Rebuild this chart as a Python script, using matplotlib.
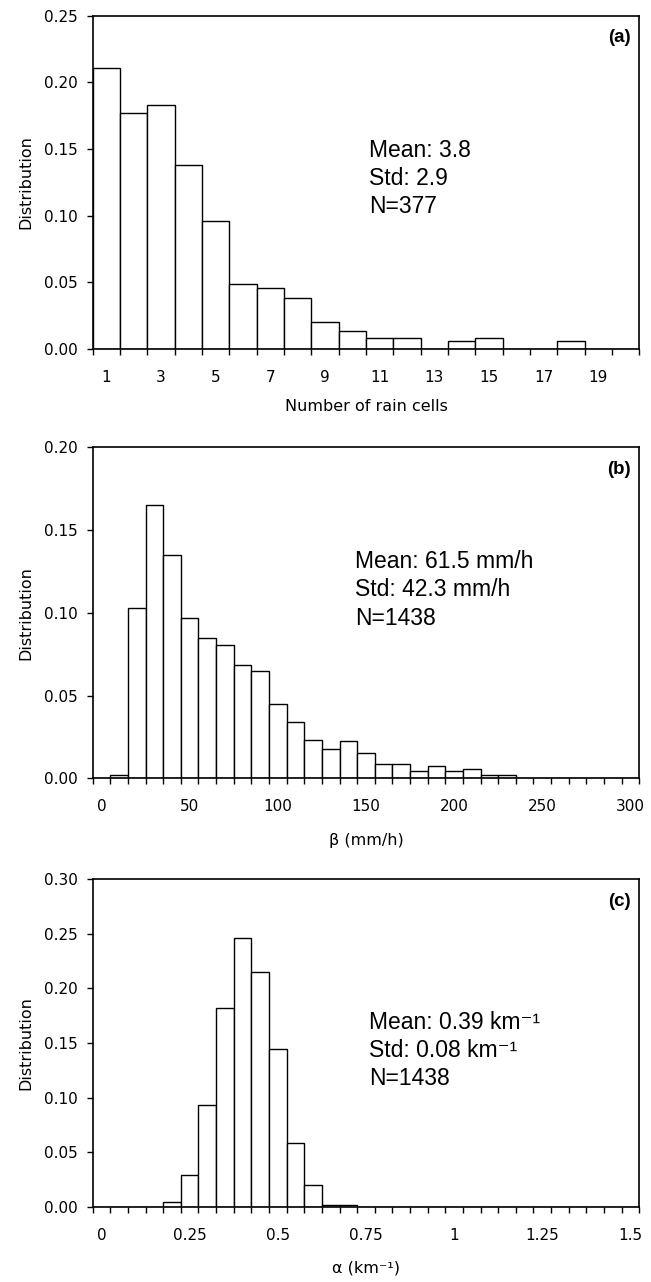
import matplotlib
matplotlib.use("Agg")
import matplotlib.pyplot as plt
import numpy as np

plt.rcParams["font.family"] = ["DejaVu Sans"]

# (a) number of rain cells
cells = [1, 2, 3, 4, 5, 6, 7, 8, 9, 10, 11, 12, 13, 14, 15, 16, 17, 18, 19, 20]
cells_freq = [0.211, 0.177, 0.183, 0.138, 0.096, 0.049, 0.046, 0.038, 0.020, 0.0135,
              0.008, 0.008, 0.0, 0.0058, 0.0083, 0.0, 0.0, 0.0058, 0.0, 0.0]
cells_labels = [1, 3, 5, 7, 9, 11, 13, 15, 17, 19]
cells_stats = ["Mean: 3.8", "Std: 2.9", "N=377"]

# (b) beta (mm/h), classes of 10 mm/h
beta = [0, 10, 20, 30, 40, 50, 60, 70, 80, 90, 100, 110, 120, 130, 140, 150,
        160, 170, 180, 190, 200, 210, 220, 230, 240, 250, 260, 270, 280, 290, 300]
beta_freq = [0.0, 0.002, 0.103, 0.165, 0.135, 0.097, 0.0846, 0.0804, 0.0683, 0.0651,
             0.0447, 0.034, 0.0234, 0.018, 0.0226, 0.0151, 0.0089, 0.0089, 0.0046, 0.0075,
             0.0046, 0.0054, 0.002, 0.002, 0.0, 0.0, 0.0, 0.0, 0.0, 0.0, 0.0]
beta_labels = [0, 50, 100, 150, 200, 250, 300]
beta_stats = ["Mean: 61.5 mm/h", "Std: 42.3 mm/h", "N=1438"]

# (c) alpha (1/km), classes of 0.05
alpha = [0.0, 0.05, 0.10, 0.15, 0.20, 0.25, 0.30, 0.35, 0.40, 0.45, 0.50, 0.55, 0.60,
         0.65, 0.70, 0.75, 0.80, 0.85, 0.90, 0.95, 1.00, 1.05, 1.10, 1.15, 1.20, 1.25,
         1.30, 1.35, 1.40, 1.45, 1.50]
alpha_freq = [0.0, 0.0, 0.0, 0.0, 0.004, 0.0293, 0.0936, 0.1817, 0.2457, 0.215, 0.1448,
              0.058, 0.0195, 0.0015, 0.0015, 0.0, 0.0, 0.0, 0.0, 0.0, 0.0, 0.0, 0.0,
              0.0, 0.0, 0.0, 0.0, 0.0, 0.0, 0.0, 0.0]
alpha_labels = [0, 0.25, 0.5, 0.75, 1, 1.25, 1.5]
alpha_stats = ["Mean: 0.39 km\u207b\u00b9", "Std: 0.08 km\u207b\u00b9", "N=1438"]

STAT_FONT = ["Liberation Sans", "DejaVu Sans"]


def draw_panel(ax, x, freq, width, ymax, xlabels, xlabel, stats, tag, text_xy, label_y):
    x = np.asarray(x, dtype=float)
    ax.bar(x, freq, width=width, color="white", edgecolor="black", linewidth=1.0,
           align="center", zorder=2)
    edges = np.append(x - width / 2, x[-1] + width / 2)
    ax.set_xlim(edges[0], edges[-1])
    ax.set_ylim(0, ymax)

    yticks = np.arange(0, ymax + 1e-9, 0.05)
    ax.set_yticks(yticks)
    ax.set_yticklabels([f"{v:.2f}" for v in yticks])
    ax.set_xticks(xlabels)
    ax.set_xticklabels([f"{v:g}" for v in xlabels])
    ax.set_xticks(edges, minor=True)

    ax.tick_params(axis="x", which="major", length=0, pad=15, labelsize=11)
    ax.tick_params(axis="x", which="minor", length=4, width=1.0, direction="out")
    ax.tick_params(axis="y", length=4, width=1.0, pad=7, labelsize=11)
    for spine in ax.spines.values():
        spine.set_linewidth(1.2)

    ax.set_ylabel("Distribution", fontsize=11.5)
    ax.yaxis.set_label_coords(-0.109, 0.5)
    ax.set_xlabel(xlabel, fontsize=11.5)
    ax.xaxis.set_label_coords(0.5, label_y)

    for i, line in enumerate(stats):
        ax.annotate(line, xy=text_xy, xycoords="axes fraction",
                    xytext=(0, -20.2 * i), textcoords="offset points",
                    fontsize=16.5, family=STAT_FONT, va="baseline", ha="left")
    ax.annotate(tag, xy=(1, 1), xycoords="axes fraction", xytext=(-6.5, -16),
                textcoords="offset points", ha="right", va="center",
                fontsize=13.5, fontweight="bold", family=STAT_FONT)


fig = plt.figure(figsize=(6.51, 12.82), dpi=100)
ax_a = fig.add_axes([0.1424, 0.7278, 0.8396, 0.2600])
ax_b = fig.add_axes([0.1424, 0.3929, 0.8396, 0.2582])
ax_c = fig.add_axes([0.1424, 0.0587, 0.8396, 0.2556])

draw_panel(ax_a, cells, cells_freq, 1.0, 0.25, cells_labels, "Number of rain cells",
           cells_stats, "(a)", (0.5055, 0.577), -0.150)
draw_panel(ax_b, beta, beta_freq, 10.0, 0.20, beta_labels, "\u03b2 (mm/h)",
           beta_stats, "(b)", (0.48, 0.634), -0.164)
draw_panel(ax_c, alpha, alpha_freq, 0.05, 0.30, alpha_labels, "\u03b1 (km\u207b\u00b9)",
           alpha_stats, "(c)", (0.5055, 0.542), -0.163)

fig.savefig("out.png", dpi=100)
